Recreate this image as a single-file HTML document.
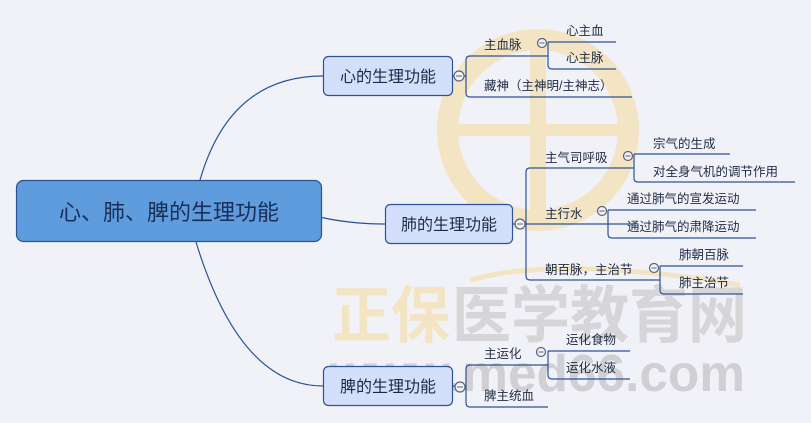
<!DOCTYPE html>
<html><head><meta charset="utf-8"><style>
html,body{margin:0;padding:0;background:#f1f2f8;}
svg{display:block;}
text{font-family:"Liberation Sans","Noto Sans CJK SC",sans-serif;}
</style></head><body>
<svg width="811" height="423" viewBox="0 0 811 423" xmlns="http://www.w3.org/2000/svg">
<rect width="811" height="423" fill="#f1f2f8"/>
<!-- watermark logo -->
<circle cx="538" cy="130" r="101" fill="#f3e4c3"/>
<circle cx="538" cy="130" r="80" fill="#f1f2f8"/>
<rect x="530" y="30" width="16" height="200" fill="#f3e4c3"/>
<rect x="445" y="124" width="190" height="12" fill="#f3e4c3"/>
<path d="M470 280 Q560 255 740 285" stroke="#f3e4c3" stroke-width="5" fill="none"/>
<text x="332" y="337" font-size="62" font-weight="bold" fill="#f3e4c3" textLength="118" lengthAdjust="spacingAndGlyphs">正保</text>
<text x="452" y="337" font-size="62" font-weight="bold" fill="#d6d6d9" textLength="295" lengthAdjust="spacingAndGlyphs">医学教育网</text>
<text x="330" y="391" font-size="52" font-weight="bold" fill="#d0d0d4" textLength="415" lengthAdjust="spacingAndGlyphs" font-family="Liberation Sans,sans-serif">www.med66.com</text>

<g fill="none" stroke="#2c5394" stroke-width="1.2">
<path d="M200 180 Q230 76 323 76"/>
<path d="M300 212 Q340 224 385 224"/>
<path d="M196 242 Q240 386 323 386"/>
<line x1="453" y1="76" x2="466" y2="76"/>
<path d="M548 56 H470 Q466 56 466 60 V93 Q466 97 470 97 H632"/>
<path d="M548 42 V65 Q548 69 552 69 H616"/>
<line x1="548" y1="42" x2="616" y2="42"/>
<line x1="513" y1="224" x2="634" y2="224"/>
<path d="M634 168 H530 Q526 168 526 172 V276 Q526 280 530 280 H660"/>
<path d="M634 154 V178 Q634 182 638 182 H795"/>
<line x1="634" y1="154" x2="730" y2="154"/>
<path d="M608 210 V234 Q608 238 612 238 H756"/>
<line x1="608" y1="210" x2="756" y2="210"/>
<path d="M660 266 V290 Q660 294 664 294 H743"/>
<line x1="660" y1="266" x2="743" y2="266"/>
<line x1="453" y1="386" x2="466" y2="386"/>
<path d="M548 365 H470 Q466 365 466 369 V403 Q466 407 470 407 H548"/>
<path d="M548 351 V375 Q548 379 552 379 H630"/>
<line x1="548" y1="351" x2="630" y2="351"/>
</g>
<g fill="#f1f2f8" stroke="#5a6478" stroke-width="1.2">
<circle cx="459" cy="76" r="5"/><circle cx="542" cy="43" r="4.5"/>
<circle cx="520" cy="224" r="5"/><circle cx="628" cy="156" r="4.5"/><circle cx="602" cy="211" r="4.5"/><circle cx="654" cy="268" r="4.5"/>
<circle cx="460" cy="387" r="5"/><circle cx="541" cy="352" r="4.5"/>
</g>
<g stroke="#5a6478" stroke-width="1">
<line x1="456" y1="76" x2="462" y2="76"/><line x1="539.5" y1="43" x2="544.5" y2="43"/>
<line x1="517" y1="224" x2="523" y2="224"/><line x1="625.5" y1="156" x2="630.5" y2="156"/><line x1="599.5" y1="211" x2="604.5" y2="211"/><line x1="651.5" y1="268" x2="656.5" y2="268"/>
<line x1="457" y1="387" x2="463" y2="387"/><line x1="538.5" y1="352" x2="543.5" y2="352"/>
</g>
<rect x="16.5" y="180.5" width="305" height="61" rx="7" fill="#5e9cdd" stroke="#2c5394" stroke-width="1.2"/>
<text x="169" y="220" font-size="22" fill="#1b2e55" text-anchor="middle">心、肺、脾的生理功能</text>
<rect x="323.5" y="56.5" width="129" height="39" rx="5" fill="#d4e0fb" stroke="#2c5394" stroke-width="1.2"/>
<text x="388" y="82" font-size="16" fill="#1e2a44" text-anchor="middle">心的生理功能</text>
<rect x="385.5" y="204.5" width="127" height="39" rx="5" fill="#d4e0fb" stroke="#2c5394" stroke-width="1.2"/>
<text x="449" y="230" font-size="16" fill="#1e2a44" text-anchor="middle">肺的生理功能</text>
<rect x="323.5" y="366.5" width="129" height="39" rx="5" fill="#d4e0fb" stroke="#2c5394" stroke-width="1.2"/>
<text x="388" y="392" font-size="16" fill="#1e2a44" text-anchor="middle">脾的生理功能</text>
<g font-size="12.5" fill="#1e2a44">
<text x="484" y="49">主血脉</text>
<text x="566" y="35">心主血</text>
<text x="566" y="62">心主脉</text>
<text x="484" y="90">藏神（主神明/主神志）</text>
<text x="545" y="162">主气司呼吸</text>
<text x="653" y="148">宗气的生成</text>
<text x="653" y="176">对全身气机的调节作用</text>
<text x="545" y="218">主行水</text>
<text x="627" y="203">通过肺气的宣发运动</text>
<text x="627" y="231">通过肺气的肃降运动</text>
<text x="545" y="274">朝百脉，主治节</text>
<text x="679" y="259">肺朝百脉</text>
<text x="679" y="287">肺主治节</text>
<text x="484" y="358">主运化</text>
<text x="566" y="344">运化食物</text>
<text x="566" y="372">运化水液</text>
<text x="484" y="400">脾主统血</text>
</g>
</svg>
</body></html>
